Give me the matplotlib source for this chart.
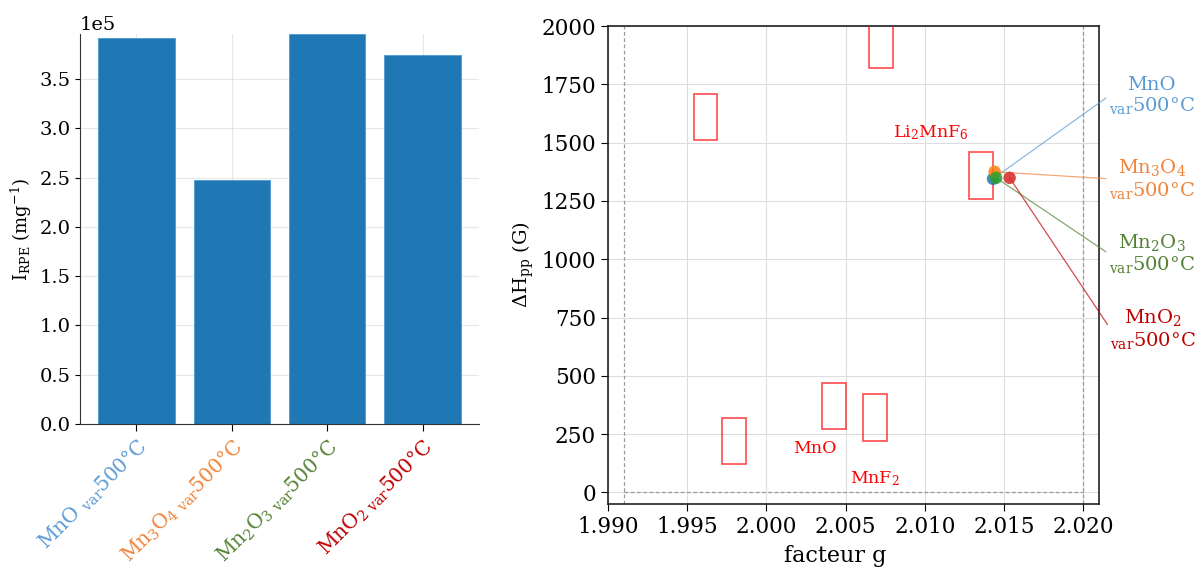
import matplotlib
matplotlib.use("Agg")
import matplotlib.pyplot as plt
from matplotlib.patches import Rectangle

plt.rcParams["font.family"] = ["DejaVu Serif"]
plt.rcParams["mathtext.fontset"] = "dejavuserif"

# --- left panel: EPR intensity per sample ---
samples = [
    r"MnO $_{\mathrm{var}}$500°C",
    r"Mn$_3$O$_4$$_{\mathrm{\ var}}$500°C",
    r"Mn$_2$O$_3$$_{\mathrm{\ var}}$500°C",
    r"MnO$_2$$_{\mathrm{\ var}}$500°C",
]
intensity = [3.915e5, 2.475e5, 3.955e5, 3.74e5]
label_colors = ["#5b9bd5", "#f0843c", "#548235", "#c00000"]

# --- right panel: g factor vs linewidth ---
point_names = [
    "MnO\n" + r"$_{\mathrm{var}}$500°C",
    r"Mn$_3$O$_4$" + "\n" + r"$_{\mathrm{var}}$500°C",
    r"Mn$_2$O$_3$" + "\n" + r"$_{\mathrm{var}}$500°C",
    r"MnO$_2$" + "\n" + r"$_{\mathrm{var}}$500°C",
]
point_g = [2.0143, 2.0144, 2.0145, 2.01535]
point_dh = [1345, 1375, 1349, 1349]
point_colors = ["tab:blue", "tab:orange", "tab:green", "tab:red"]
text_g = [2.0216, 2.0216, 2.0216, 2.0217]
text_dh = [1700, 1345, 1024, 702]

# reference ranges (g min, g max, dH min, dH max)
ref_boxes = [
    (1.9954, 1.9969, 1510, 1710),
    (2.0065, 2.0080, 1820, 2050),
    (2.0128, 2.0143, 1260, 1460),
    (1.9972, 1.9987, 120, 320),
    (2.0035, 2.0050, 270, 470),
    (2.0061, 2.0076, 220, 420),
]
ref_labels = [r"Li$_2$MnF$_6$", "MnO", r"MnF$_2$"]
ref_label_pos = [(2.0080, 1545), (2.0017, 190), (2.0053, 60)]

fig = plt.figure(figsize=(11.98, 5.67), dpi=100)
ax1 = fig.add_axes([0.0668, 0.252, 0.333, 0.688])
ax2 = fig.add_axes([0.5075, 0.111, 0.41, 0.843])

# left
x = range(len(samples))
ax1.bar(x, intensity, width=0.8, color="#1f77b4", edgecolor="#4a9ad4", linewidth=0.6, zorder=2)
ax1.set_ylim(0, max(intensity))
ax1.set_xticks(list(x))
ax1.set_xticklabels(samples, rotation=45, ha="right", rotation_mode="anchor", fontsize=14.5)
for lab, c in zip(ax1.get_xticklabels(), label_colors):
    lab.set_color(c)
ax1.set_ylabel(r"$\mathrm{I_{RPE}}$ (mg$^{-1}$)", fontsize=13)
ax1.tick_params(axis="y", labelsize=14)
ax1.tick_params(axis="x", length=5)
ax1.ticklabel_format(axis="y", style="sci", scilimits=(5, 5))
ax1.yaxis.get_offset_text().set_fontsize(14)
ax1.grid(True, color="#dddddd", linewidth=0.8, alpha=0.7, zorder=0)
for s in ["top", "right"]:
    ax1.spines[s].set_visible(False)
ax1.spines["left"].set_color("#333333")
ax1.spines["bottom"].set_color("#333333")

# right
for g0, g1, h0, h1 in ref_boxes:
    ax2.add_patch(Rectangle((g0, h0), g1 - g0, h1 - h0, fill=False,
                            edgecolor="red", alpha=0.7, linewidth=1.2, zorder=3))
for txt, (gx, hy) in zip(ref_labels, ref_label_pos):
    ax2.text(gx, hy, txt, color="red", fontsize=12.5, ha="left", va="center", zorder=4)

ax2.axvline(1.991, color="#999999", linestyle=(0, (3, 2)), linewidth=0.9, zorder=1)
ax2.axvline(2.020, color="#999999", linestyle=(0, (3, 2)), linewidth=0.9, zorder=1)
ax2.axhline(0, xmin=(1.991 - 1.990) / 0.031, xmax=(2.020 - 1.990) / 0.031,
            color="#999999", linestyle=(0, (3, 2)), linewidth=0.9, zorder=1)

ax2.scatter(point_g, point_dh, s=80, c=point_colors, alpha=0.85, zorder=5, linewidths=0)
for name, gx, hy, tg, th, c in zip(point_names, point_g, point_dh, text_g, text_dh, label_colors):
    ax2.annotate(name, xy=(gx, hy), xytext=(tg, th), textcoords="data",
                 color=c, fontsize=14, ha="left", va="center", multialignment="center",
                 annotation_clip=False, linespacing=1.1,
                 arrowprops=dict(arrowstyle="-", color=c, lw=0.9, alpha=0.7,
                                 shrinkA=0, shrinkB=0, relpos=(0, 0.5)))

ax2.set_xlim(1.990, 2.021)
ax2.set_ylim(-50, 2000)
ax2.set_xticks([1.990, 1.995, 2.000, 2.005, 2.010, 2.015, 2.020])
ax2.set_xticklabels(["1.990", "1.995", "2.000", "2.005", "2.010", "2.015", "2.020"])
ax2.tick_params(labelsize=15.5, length=5)
ax2.set_xlabel("facteur g", fontsize=16)
ax2.xaxis.set_label_coords(0.462, -0.085)
ax2.set_ylabel(r"$\Delta$H$_{\mathrm{pp}}$ (G)", fontsize=14)
ax2.grid(True, color="#dddddd", linewidth=0.8, zorder=0)
ax2.set_axisbelow(True)
for s in ax2.spines.values():
    s.set_color("#222222")
    s.set_linewidth(1.2)

fig.savefig("out.png", dpi=100)
